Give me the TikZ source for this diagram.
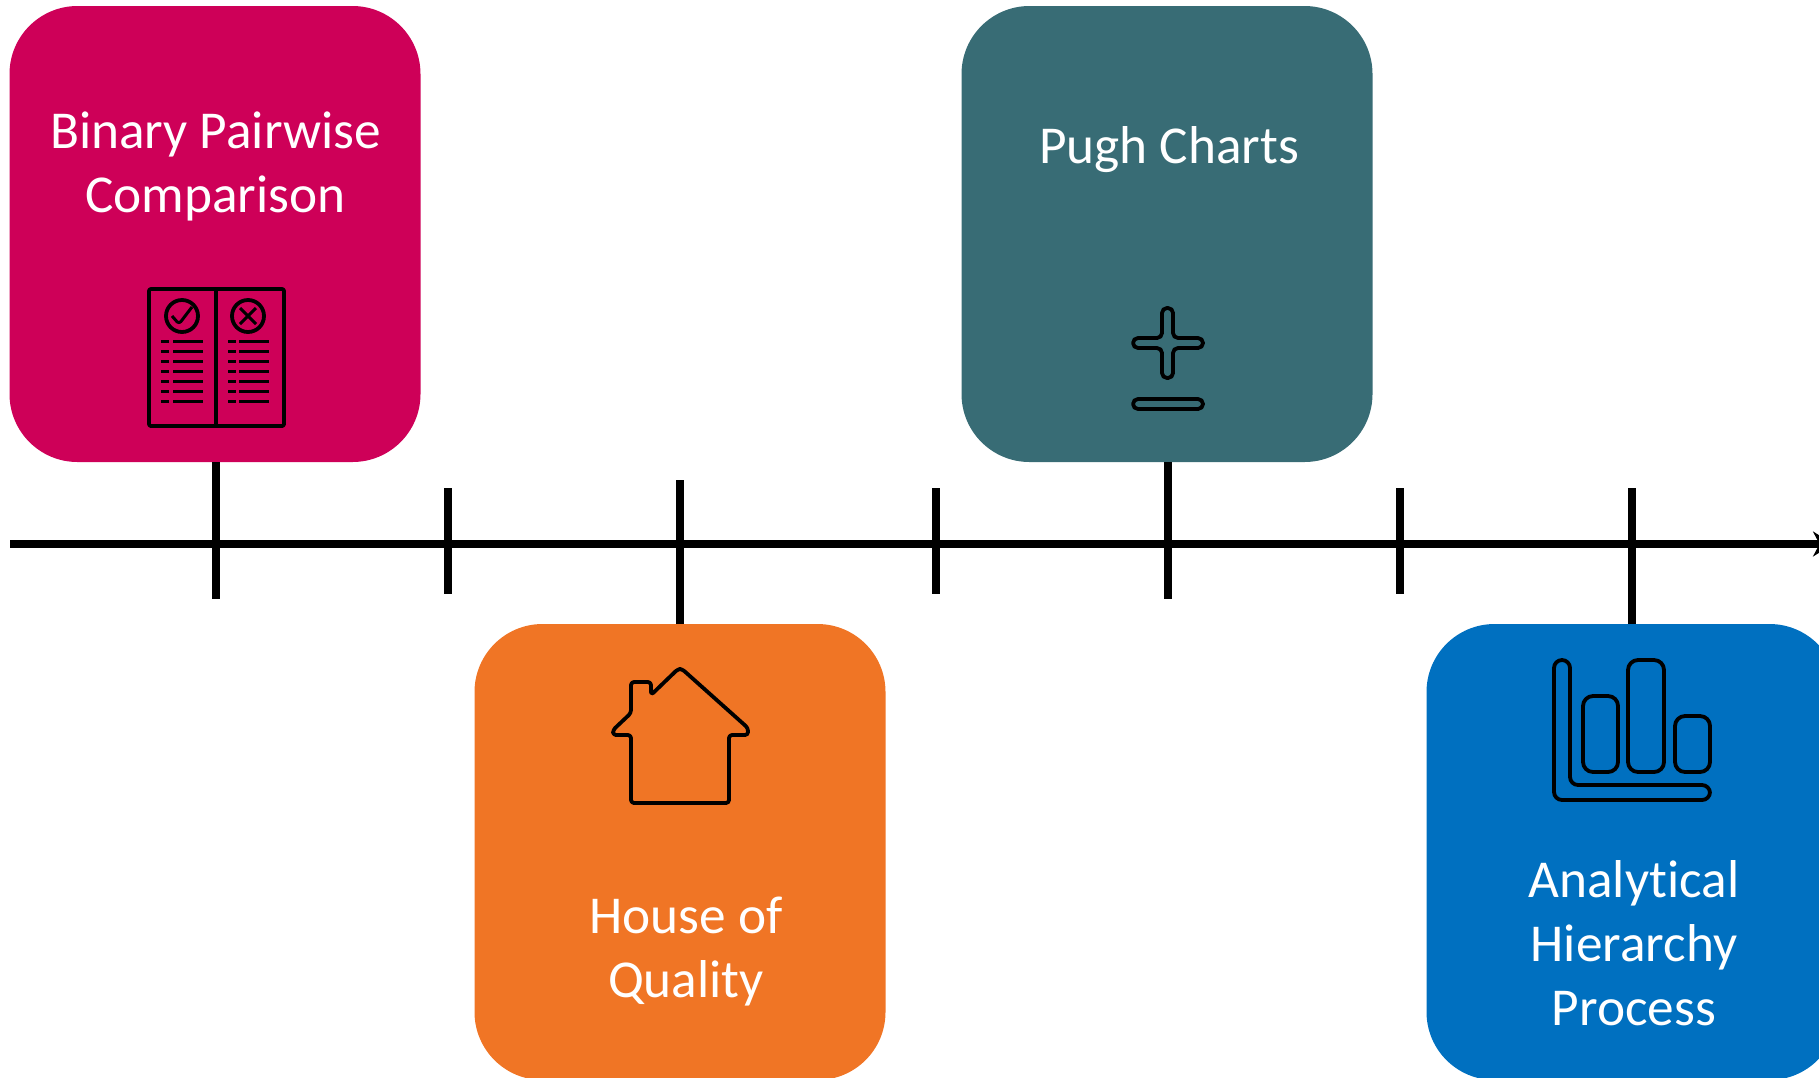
\documentclass[tikz,border=0pt]{standalone}
\usepackage{fontspec}
\setmainfont{Carlito}[Ligatures=NoCommon]
\usetikzlibrary{arrows.meta}
\definecolor{pinkcard}{HTML}{CE0058}
\definecolor{tealcard}{HTML}{386C75}
\definecolor{orangecard}{HTML}{F07525}
\definecolor{bluecard}{HTML}{0070C0}
\tikzstyle{card} = [rectangle, rounded corners=68pt, minimum width=411pt, minimum height=456pt, inner sep=0pt]
\tikzstyle{cardtext} = [text=white, align=center, font=\fontsize{53.3}{64}\selectfont]
\tikzstyle{arrow} = [line width=8pt,-{Stealth[length=20pt,width=25pt]}]
\tikzstyle{tick} = [line width=7.5pt]
\tikzstyle{icon} = [line width=3.8pt, line join=round, rounded corners=3pt]

\begin{document}
\begin{tikzpicture}[x=1pt, y=-1pt, node distance=476pt]
    \useasboundingbox (0,0) rectangle (1819,1077);

    \node (pairwise) [card, fill=pinkcard] at (215,234) {};
    \node (pugh) [card, fill=tealcard, right of=pairwise, xshift=476pt] {};
    \node (house) [card, fill=orangecard, right of=pairwise, xshift=-11pt, yshift=-618pt] {};
    \node (ahp) [card, fill=bluecard, right of=pugh, xshift=-11pt, yshift=-618pt] {};

    \node (pairwise_text) [cardtext] at (215.5,166.5) {Binary Pairwise\\Comparison};
    \node (pugh_text) [cardtext] at (1169,150) {Pugh Charts};
    \node (house_text) [cardtext] at (686,951.5) {House of\\Quality};
    \node (ahp_text) [cardtext] at (1634,943) {Analytical\\Hierarchy\\Process};

    \coordinate (axis_start) at (10,544);
    \coordinate (axis_end) at (1833,544);
    \coordinate (pairwise_end) at (216,599);
    \coordinate (pugh_end) at (1168,599);
    \coordinate (house_end) at (680,480);
    \coordinate (ahp_end) at (1632,488);

    \draw [arrow] (axis_start) -- (axis_end);
    \draw [tick] (pairwise_end |- pairwise.south) -- (pairwise_end);
    \draw [tick] (pugh_end |- pugh.south) -- (pugh_end);
    \draw [tick] (house_end |- house.north) -- (house_end);
    \draw [tick] (ahp_end |- ahp.north) -- (ahp_end);
    \foreach \x in {448,936,1400} {
        \coordinate (top\x) at (\x,488);
        \coordinate (bottom\x) at (\x,594);
        \draw [tick] (top\x) -- (bottom\x);
    }

    % pairwise icon
    \draw [icon, rounded corners=2pt] (149,289) rectangle (284,426);
    \draw [icon] (216,289) -- (216,426);
    \draw [icon] (182,316) circle (16);
    \draw [icon] (248,316) circle (16);
    \draw [icon, line width=3pt] (172,316) -- (179,324) -- (192,307);
    \draw [icon, line width=3pt] (240,308) -- (256,324);
    \draw [icon, line width=3pt] (256,308) -- (240,324);
    \foreach \y in {341,351,361,371,381,391,401} {
        \draw [icon, line width=3pt] (161,\y) -- (169,\y);
        \draw [icon, line width=3pt] (173,\y) -- (203,\y);
        \draw [icon, line width=3pt] (228,\y) -- (236,\y);
        \draw [icon, line width=3pt] (239,\y) -- (269,\y);
    }

    % pugh icon
    \draw [icon, rounded corners=5pt] (1162,338) -- (1162,308) -- (1173,308) -- (1173,338) -- (1203,338) -- (1203,348) -- (1173,348) -- (1173,378) -- (1162,378) -- (1162,348) -- (1133,348) -- (1133,338) -- cycle;
    \draw [icon, rounded corners=5pt] (1133,399) rectangle (1203,409);

    % house icon
    \draw [icon, rounded corners=3pt] (678,669) -- (682,669) -- (748,728) -- (748,735) -- (729,735) -- (729,803) -- (631,803) -- (631,735) -- (613,735) -- (613,730) -- (631,713) -- (631,682) -- (651,682) -- (651,695) -- cycle;

    % ahp icon
    \draw [icon, rounded corners=8pt] (1554,660) -- (1570,660) -- (1570,785) -- (1710,785) -- (1710,800) -- (1554,800) -- cycle;
    \draw [icon, rounded corners=10pt] (1583,696) rectangle (1618,772);
    \draw [icon, rounded corners=10pt] (1628,660) rectangle (1664,772);
    \draw [icon, rounded corners=10pt] (1675,716) rectangle (1710,772);

\end{tikzpicture}
\end{document}
